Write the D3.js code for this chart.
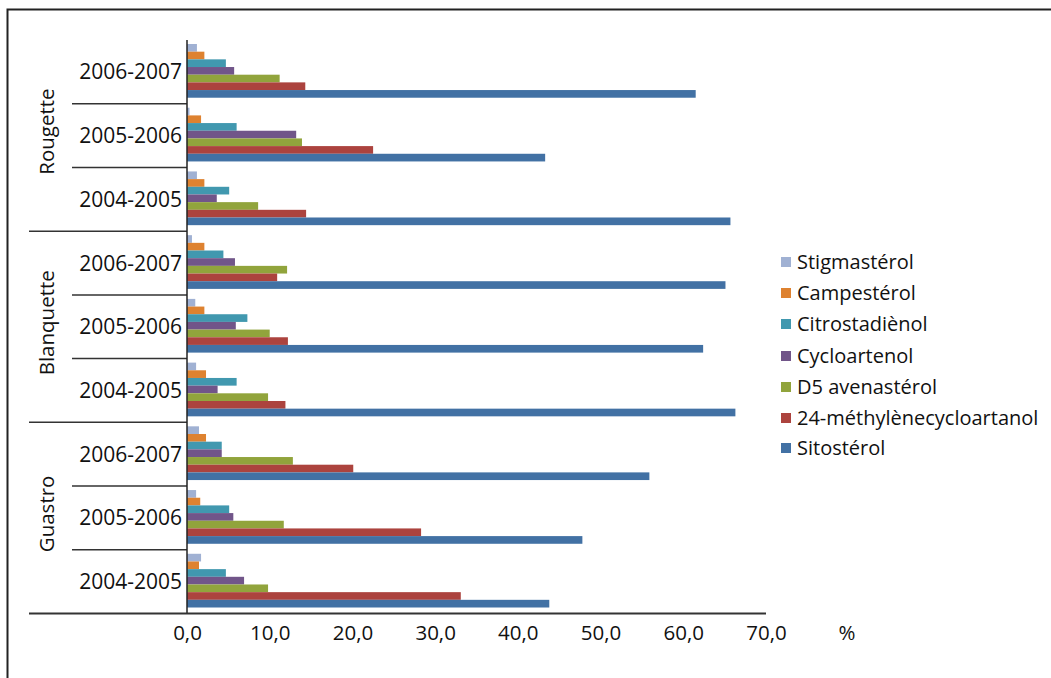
<!DOCTYPE html>
<html>
<head>
<meta charset="utf-8">
<script src="https://cdn.jsdelivr.net/npm/d3@7"></script>
<style>
  html, body { margin: 0; padding: 0; background: #fff; }
  svg text { font-family: "Open Sans", "Noto Sans", sans-serif; fill: #111; }
</style>
</head>
<body>
<svg id="chart" width="1051" height="678"></svg>
<script>
// ---- data ----
const groups = ["Rougette", "Blanquette", "Guastro"];
const years = ["2006-2007", "2005-2006", "2004-2005"];
const seriesNames = ["Stigmastérol", "Campestérol", "Citrostadiènol", "Cycloartenol",
  "D5 avenastérol", "24-méthylènecycloartanol", "Sitostérol"];
const seriesColors = ["#A0B1D3", "#DE8230", "#4198AF", "#715589", "#91A43C", "#AC433E", "#4271A4"];
// values per series, ordered: Rougette(06-07, 05-06, 04-05), Blanquette(...), Guastro(...)
const stigmasterol = [1.2, 0.3, 1.2, 0.6, 1.0, 1.1, 1.45, 1.1, 1.7];
const campesterol = [2.1, 1.7, 2.1, 2.1, 2.1, 2.3, 2.3, 1.6, 1.45];
const citrostadienol = [4.7, 6.0, 5.1, 4.4, 7.3, 6.0, 4.2, 5.1, 4.7];
const cycloartenol = [5.7, 13.2, 3.6, 5.8, 5.9, 3.7, 4.2, 5.6, 6.9];
const d5avenasterol = [11.2, 13.9, 8.6, 12.1, 10.0, 9.8, 12.8, 11.7, 9.8];
const methylene = [14.3, 22.5, 14.4, 10.9, 12.2, 11.9, 20.1, 28.3, 33.1];
const sitosterol = [61.5, 43.3, 65.7, 65.1, 62.4, 66.3, 55.9, 47.8, 43.8];
const xTicks = [0, 10, 20, 30, 40, 50, 60, 70];
const xTickLabels = ["0,0", "10,0", "20,0", "30,0", "40,0", "50,0", "60,0", "70,0"];
const unitLabel = "%";

const seriesValues = [stigmasterol, campesterol, citrostadienol, cycloartenol, d5avenasterol, methylene, sitosterol];

// ---- build ----
const categories = [];
groups.forEach(g => years.forEach(y => categories.push({ group: g, year: y, key: g + "|" + y })));

const svg = d3.select("#chart");
const pLeft = 187, pRight = 766, pTop = 40, pBottom = 613.5;

const x = d3.scaleLinear().domain([0, 70]).range([pLeft, pRight]);
const y = d3.scaleBand().domain(categories.map(c => c.key)).range([pTop, pBottom]).padding(0);
const bw = y.bandwidth();
const yInner = d3.scaleBand().domain(seriesNames).range([4, bw - 6]).padding(0);

// outer frame
svg.append("path")
  .attr("d", "M7.5,678 V9.5 H1051")
  .attr("fill", "none").attr("stroke", "#222").attr("stroke-width", 2);

// bars
const barData = [];
categories.forEach((c, ci) => {
  seriesNames.forEach((s, si) => {
    barData.push({ cat: c.key, series: s, value: seriesValues[si][ci], color: seriesColors[si] });
  });
});
svg.append("g").selectAll("rect").data(barData).join("rect")
  .attr("x", x(0))
  .attr("y", d => y(d.cat) + yInner(d.series))
  .attr("width", d => x(d.value) - x(0))
  .attr("height", yInner.bandwidth())
  .attr("fill", d => d.color);

// category separators
const sep = svg.append("g").attr("stroke", "#333").attr("stroke-width", 1.5);
categories.forEach((c, i) => {
  if (i === 0) return;
  const yy = y(c.key);
  const isGroupStart = years.indexOf(c.year) === 0;
  sep.append("line")
    .attr("x1", isGroupStart ? 29 : 72).attr("x2", pLeft)
    .attr("y1", yy).attr("y2", yy);
});

// axes lines
const axisG = svg.append("g");
axisG.append("line").attr("x1", pLeft).attr("x2", pLeft).attr("y1", pTop).attr("y2", pBottom)
  .attr("stroke", "#222").attr("stroke-width", 1.5);
axisG.append("line").attr("x1", 29).attr("x2", pRight).attr("y1", pBottom).attr("y2", pBottom)
  .attr("stroke", "#333").attr("stroke-width", 2);

// x tick labels via axis
const xAxis = d3.axisBottom(x).tickValues(xTicks).tickFormat((d, i) => xTickLabels[i]).tickSize(0).tickPadding(11.5);
const xg = svg.append("g").attr("transform", `translate(0,${pBottom})`).call(xAxis);
xg.select(".domain").remove();
xg.selectAll("text").attr("font-size", 20.5).attr("font-family", "\"Open Sans\", sans-serif").attr("fill", "#111");

svg.append("text").attr("x", 847).attr("y", 640).attr("text-anchor", "middle")
  .attr("font-size", 20.5).text(unitLabel);

// year labels
svg.append("g").selectAll("text").data(categories).join("text")
  .attr("x", 182)
  .attr("y", d => y(d.key) + bw / 2 + 7.5)
  .attr("text-anchor", "end")
  .attr("font-size", 21)
  .text(d => d.year);

// group labels
groups.forEach(g => {
  const keys = categories.filter(c => c.group === g).map(c => c.key);
  const y0 = y(keys[0]), y1 = y(keys[keys.length - 1]) + bw;
  const cy = (y0 + y1) / 2 - 4;
  svg.append("text")
    .attr("transform", `translate(54,${cy}) rotate(-90)`)
    .attr("text-anchor", "middle")
    .attr("font-size", 20.5)
    .text(g);
});

// legend
const legendY = [262, 293, 324, 356, 387, 418, 448];
const lg = svg.append("g");
seriesNames.forEach((s, i) => {
  lg.append("rect").attr("x", 781).attr("y", legendY[i] - 5).attr("width", 10).attr("height", 10)
    .attr("fill", seriesColors[i]);
  lg.append("text").attr("x", 797).attr("y", legendY[i] + 7).attr("font-size", 20).text(s);
});
</script>
</body>
</html>
